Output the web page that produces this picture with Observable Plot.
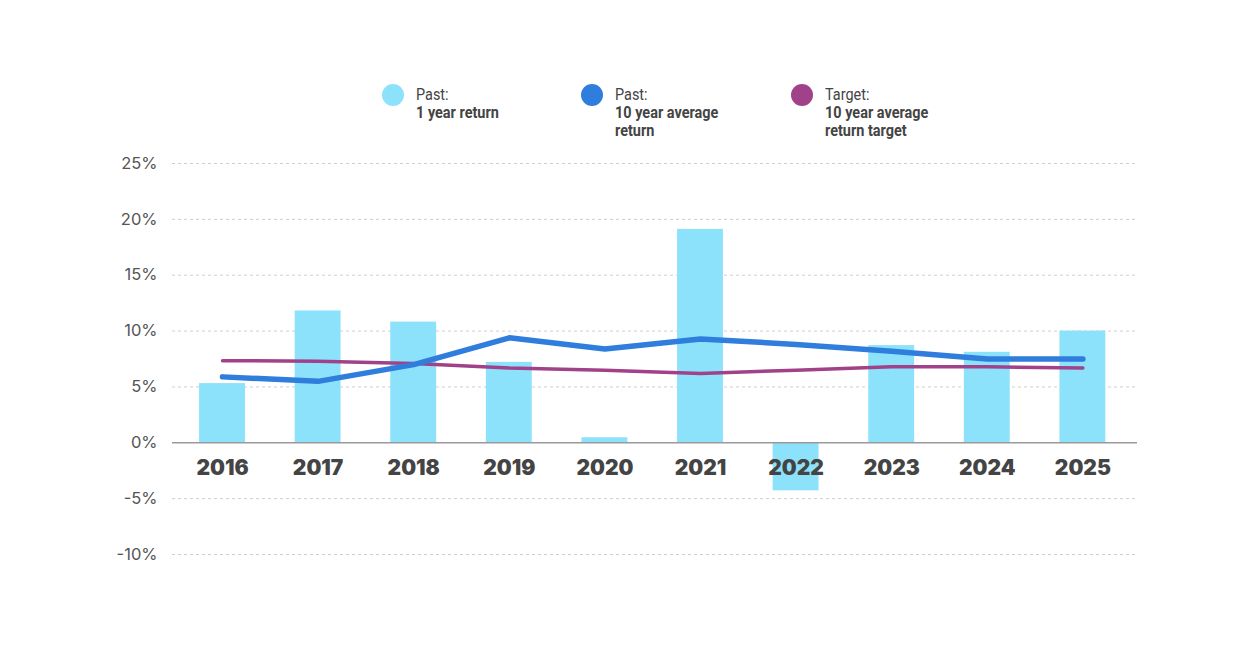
<!DOCTYPE html>
<html>
<head>
<meta charset="utf-8">
<script src="https://cdn.jsdelivr.net/npm/d3@7"></script>
<script src="https://cdn.jsdelivr.net/npm/@observablehq/plot@0.6"></script>
<style>
  html, body { margin: 0; padding: 0; background: #fff; }
  #wrap { width: 1240px; }
  #legend { position: relative; height: 140px; font-family: "Roboto", "Inter", sans-serif; color: #444; }
  .item { position: absolute; top: 84px; display: flex; align-items: flex-start; }
  .sw { width: 22px; height: 22px; border-radius: 50%; margin-right: 12px; flex: none; }
  .lbl { font-size: 17px; line-height: 18px; transform: scaleX(0.85); transform-origin: left top; white-space: nowrap; margin-top: 1px; }
  .lbl b { font-weight: 700; }
</style>
</head>
<body>
<div id="wrap">
  <div id="legend"></div>
  <div id="chart"></div>
</div>
<script>
const years = ["2016","2017","2018","2019","2020","2021","2022","2023","2024","2025"];
const oneYearReturn = [5.3, 11.8, 10.8, 7.2, 0.45, 19.1, -4.3, 8.7, 8.1, 10.0];
const tenYearAverage = [5.9, 5.5, 7.0, 9.4, 8.4, 9.3, 8.8, 8.2, 7.5, 7.5];
const tenYearTarget = [7.35, 7.3, 7.1, 6.7, 6.5, 6.2, 6.5, 6.8, 6.8, 6.7];
const yTicks = [-10, -5, 0, 5, 10, 15, 20, 25];

const colBar = "#8de2fb", colAvg = "#2f7ddc", colTarget = "#a0418a";

const legendItems = [
  {x: 382, color: colBar, top: "Past:", rest: "1 year return"},
  {x: 581, color: colAvg, top: "Past:", rest: "10 year average<br>return"},
  {x: 791, color: colTarget, top: "Target:", rest: "10 year average<br>return target"}
];
const legend = document.getElementById("legend");
for (const it of legendItems) {
  const d = document.createElement("div");
  d.className = "item";
  d.style.left = it.x + "px";
  d.innerHTML = `<div class="sw" style="background:${it.color}"></div><div class="lbl">${it.top}<br><b>${it.rest}</b></div>`;
  legend.appendChild(d);
}

const data = years.map((y, i) => ({year: y, ret: oneYearReturn[i], avg: tenYearAverage[i], target: tenYearTarget[i]}));

const chart = Plot.plot({
  width: 1240,
  height: 508,
  marginTop: 23,
  marginBottom: 94,
  marginLeft: 172,
  marginRight: 103,
  style: {fontFamily: "Inter, sans-serif", background: "#fff"},
  x: {domain: years, paddingInner: 0.52, paddingOuter: 0.3, range: [170.4, 1134], round: false, axis: null},
  y: {domain: [-10, 25], axis: null},
  marks: [
    Plot.ruleY(yTicks.filter(d => d !== 0), {stroke: "#cfcfcf", strokeDasharray: "3,3", strokeWidth: 1}),
    Plot.barY(data, {x: "year", y: "ret", fill: colBar}),
    Plot.ruleY([0], {stroke: "#9a9a9a", strokeWidth: 1.5}),
    Plot.text(yTicks, {y: d => d, text: d => d + "%", frameAnchor: "left", textAnchor: "end", dx: -15, fontSize: 16.5, fill: "#555"}),
    Plot.text(data, {x: "year", y: () => 0, text: "year", dy: 25, fontSize: 21, fontWeight: 900, fill: "#444"}),
    Plot.line(data, {x: "year", y: "target", stroke: colTarget, strokeWidth: 3.5, strokeLinecap: "round"}),
    Plot.line(data, {x: "year", y: "avg", stroke: colAvg, strokeWidth: 5.5, strokeLinecap: "round", strokeLinejoin: "round"})
  ]
});
document.getElementById("chart").appendChild(chart);
</script>
</body>
</html>
